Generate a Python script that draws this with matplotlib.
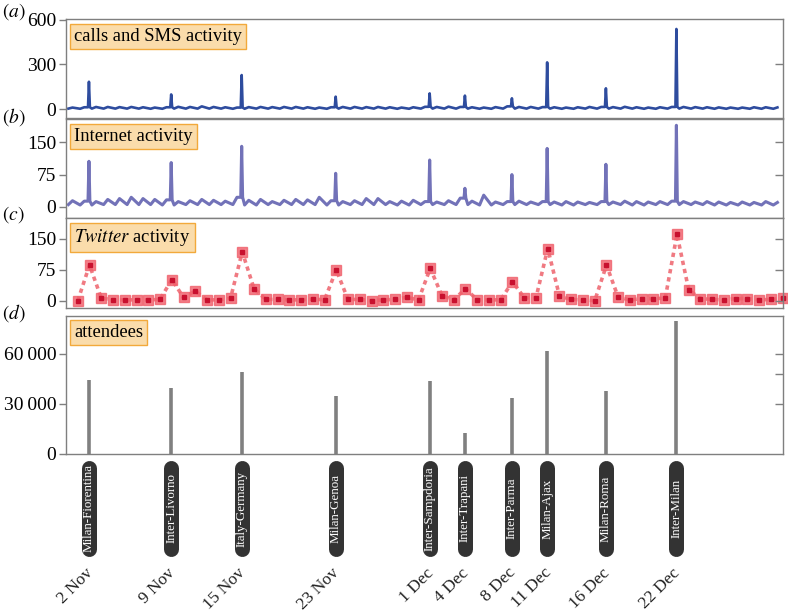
import numpy as np
import matplotlib.pyplot as plt

plt.rcParams['font.family'] = ['Liberation Serif', 'DejaVu Serif']
plt.rcParams['mathtext.fontset'] = 'stix'

# matches (day index counted from 1 Nov = 0)
match_names = ['Milan-Fiorentina', 'Inter-Livorno', 'Italy-Germany', 'Milan-Genoa',
               'Inter-Sampdoria', 'Inter-Trapani', 'Inter-Parma', 'Milan-Ajax',
               'Milan-Roma', 'Inter-Milan']
match_dates = ['2 Nov', '9 Nov', '15 Nov', '23 Nov', '1 Dec', '4 Dec', '8 Dec',
               '11 Dec', '16 Dec', '22 Dec']
match_day = [1, 8, 14, 22, 30, 33, 37, 40, 45, 51]
attendees = [44100, 39700, 49100, 34800, 43700, 12700, 33800, 61800, 37950, 79500]

calls_peak = [183, 98, 228, 83, 105, 90, 72, 313, 139, 537]
internet_peak = [106, 103, 141, 78, 109, 43, 75, 136, 99, 190]

# daily day-time / night-time levels
calls_high = [10, 12, 14, 14, 13, 14, 12, 10, 12, 15,
              14, 18, 14, 12, 10, 13, 14, 13, 14, 14,
              12, 10, 12, 14, 14, 13, 14, 12, 10, 12,
              15, 14, 16, 14, 12, 10, 13, 18, 14, 14,
              13, 12, 10, 12, 14, 14, 13, 15, 12, 10,
              12, 14, 14, 13, 12, 11, 10, 10, 12, 12,
              11]
calls_low = [3, 2, 3, 3, 3, 3, 3, 2, 2, 3,
             3, 3, 3, 3, 2, 2, 3, 3, 3, 3,
             3, 2, 2, 3, 3, 3, 3, 3, 2, 2,
             3, 3, 3, 3, 3, 2, 2, 3, 3, 3,
             3, 3, 2, 2, 3, 3, 3, 3, 3, 2,
             2, 3, 3, 3, 3, 2, 2, 2, 2, 2,
             2]
internet_high = [14, 13, 12, 17, 19, 22, 19, 17, 16, 12,
                 14, 17, 15, 13, 22, 15, 17, 12, 15, 17,
                 16, 22, 14, 12, 14, 19, 19, 12, 13, 15,
                 12, 11, 14, 20, 13, 27, 11, 12, 13, 11,
                 12, 11, 12, 11, 10, 12, 11, 13, 12, 11,
                 12, 13, 12, 11, 12, 11, 10, 11, 10, 12,
                 10]
internet_low = [5, 4, 4, 5, 5, 5, 5, 5, 4, 4,
                5, 5, 5, 5, 5, 4, 4, 5, 5, 5,
                5, 5, 4, 4, 5, 5, 5, 5, 4, 4,
                5, 5, 5, 5, 5, 4, 4, 5, 5, 5,
                5, 5, 4, 4, 5, 5, 5, 5, 4, 4,
                5, 5, 5, 5, 5, 4, 4, 4, 4, 4,
                4]

twitter = [0, 86, 6, 2, 2, 2, 2, 3, 51, 8,
           23, 2, 2, 6, 118, 29, 3, 3, 2, 2,
           4, 2, 74, 3, 3, 0, 2, 3, 8, 2,
           78, 12, 2, 29, 2, 2, 2, 46, 7, 7,
           126, 11, 3, 2, 0, 86, 8, 2, 5, 5,
           6, 160, 26, 5, 3, 2, 5, 5, 2, 3,
           6]

gray = '#7f7f7f'
match_x = [d + 0.95 for d in match_day]


def build(low, high, peak):
    t, v = [], []
    for d in range(len(low)):
        t += [d + 0.2, d + 0.55]
        v += [low[d], high[d]]
    for d, p in zip(match_day, peak):
        tm = d + 0.95
        t += [tm - 0.08, tm, tm + 0.08]
        v += [high[d], p, high[d]]
    order = np.argsort(t)
    return np.array(t)[order], np.array(v)[order]


def style(ax, ylim, ticks, rticks, fmt=str):
    ax.set_xlim(0, 61)
    ax.set_ylim(*ylim)
    ax.set_xticks([])
    ax.set_yticks(ticks)
    ax.set_yticklabels([fmt(t) for t in ticks])
    ax.tick_params(axis='y', direction='out', length=5, width=1, color=gray,
                   labelsize=14, pad=2)
    for s in ax.spines.values():
        s.set_color(gray)
        s.set_linewidth(1)
    r = ax.twinx()
    r.set_ylim(*ylim)
    r.set_yticks(rticks)
    r.tick_params(axis='y', direction='in', length=6, width=1, color=gray,
                  labelright=False)
    for s in r.spines.values():
        s.set_visible(False)


def tag(ax, txt):
    ax.annotate(txt, xy=(0, 1), xycoords='axes fraction', xytext=(6, -6),
                textcoords='offset points', ha='left', va='top', fontsize=13.4,
                bbox=dict(boxstyle='square,pad=0.22', fc='#fadcab', ec='#f2a93b', lw=1))


fig = plt.figure(figsize=(7.88, 6.12), dpi=100)
ax_a = fig.add_axes([0.0838, 0.8067, 0.9095, 0.1618])
ax_b = fig.add_axes([0.0838, 0.6433, 0.9095, 0.1618])
ax_c = fig.add_axes([0.0838, 0.4972, 0.9095, 0.1461])
ax_d = fig.add_axes([0.0838, 0.2582, 0.9095, 0.2255])

# (a) calls and SMS
t, v = build(calls_low, calls_high, calls_peak)
ax_a.plot(t, v, color='#2e4c9e', lw=1.9)
style(ax_a, (-62, 602), [0, 300, 600], [300])
tag(ax_a, 'calls and SMS activity')

# (b) internet
t, v = build(internet_low, internet_high, internet_peak)
ax_b.plot(t, v, color='#7272b8', lw=2.2)
style(ax_b, (-27, 204), [0, 75, 150], [75, 150])
tag(ax_b, 'Internet activity')

# (c) twitter
tx = np.arange(1, len(twitter) + 1)
ax_c.plot(tx, twitter, color='#f07a82', lw=2.6, ls=(0, (1.2, 1.1)))
ax_c.plot(tx, twitter, ls='none', marker='s', ms=7.2, mfc='#f0606c', mec='#f0606c',
          alpha=0.8, clip_on=False)
ax_c.plot(tx, twitter, ls='none', marker='s', ms=2.2, mfc='#c8102e', mec='#c8102e',
          clip_on=False)
style(ax_c, (-17, 199), [0, 75, 150], [0, 75, 150])
tag(ax_c, r'$\mathit{Twitter}$ activity')

# (d) attendees
ax_d.vlines(match_x, 0, attendees, color='#808080', lw=2.6)
style(ax_d, (0, 82800), [0, 30000, 60000], [30000, 48000, 60000],
      fmt=lambda x: f'{x:,}'.replace(',', '\u2009'))
tag(ax_d, 'attendees')

tr = ax_d.get_xaxis_transform()
for x, name, date in zip(match_x, match_names, match_dates):
    ax_d.plot([x, x], [-0.098, -0.692], transform=tr, color='#333333', lw=10.8,
              solid_capstyle='round', clip_on=False)
    ax_d.text(x, -0.395, name, transform=tr, rotation=90, color='white',
              fontsize=9.4, ha='center', va='center')
    ax_d.text(x + 0.6, -0.804, date, transform=tr, rotation=45, ha='right',
              va='top', fontsize=12.5, color='#222222')

for lab, ypix in zip('abcd', [12, 117, 215, 313]):
    fig.text(2 / 788, 1 - ypix / 612, '$(%s)$' % lab, fontsize=14, va='center',
             ha='left')

fig.savefig('out.png', dpi=100)
